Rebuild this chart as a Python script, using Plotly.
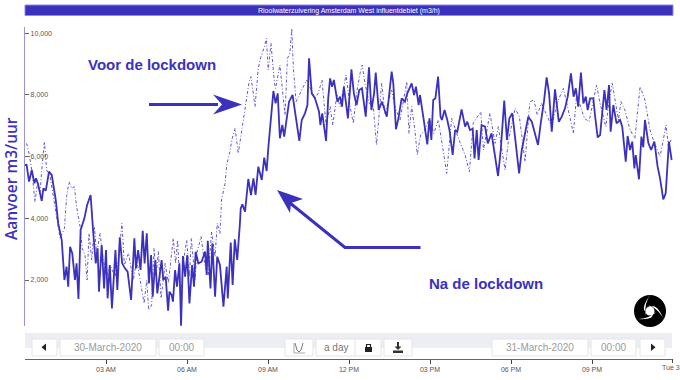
import math
import plotly.graph_objects as go

now_hours = [0,.06,.15,.25,.35,.41,.49,.62,.68,.77,.89,.99,1.05,1.14,1.23,1.36,1.46,1.54,1.6,1.67,1.75,1.85,1.91,1.98,2.06,2.2,2.3,2.43,2.53,2.62,2.69,2.74,2.84,2.93,3.0,3.06,3.14,3.22,3.35,3.42,3.51,3.6,3.7,3.8,3.93,
4.05,4.11,4.19,4.28,4.36,4.43,4.51,4.59,4.67,4.73,4.83,4.90,4.98,5.06,5.12,5.21,5.30,5.35,5.43,5.48,5.56,5.63,5.72,5.78,5.85,5.93,6.01,6.09,6.19,6.26,6.32,6.42,6.54,6.67,6.73,6.77,6.87,6.94,7.04,7.12,7.22,7.35,7.47,7.51,7.62,7.69,7.77,7.86,7.96,
7.99,8.05,8.15,8.27,8.37,8.46,8.54,8.64,8.77,8.86,8.95,9.01,9.11,9.2,9.28,9.36,9.44,9.53,9.6,9.68,9.78,9.91,10.02,10.16,10.25,10.37,10.46,10.52,10.62,10.74,10.89,10.94,11.01,11.15,11.23,
11.3,11.37,11.44,11.57,11.67,11.74,11.81,11.96,12.09,12.18,12.28,12.38,12.48,12.62,12.74,12.83,12.93,12.99,13.1,13.22,13.4,13.58,13.64,13.74,13.83,13.95,14.07,14.16,14.32,14.41,14.48,14.58,14.63,14.75,14.81,14.9,14.98,15.05,15.12,15.2,15.3,15.39,15.44,15.54,15.64,15.72,
15.84,15.93,16.01,16.17,16.3,16.38,16.48,16.58,16.65,16.73,16.8,16.91,17.04,17.14,17.28,17.41,17.52,17.62,17.75,17.85,17.94,18.05,18.15,18.3,18.4,18.52,18.64,18.77,18.9,19.0,19.1,19.22,19.32,19.41,19.51,19.63,19.77,19.88,
20,20.1,20.22,20.32,20.4,20.49,20.59,20.68,20.77,20.84,20.93,21.05,21.11,21.21,21.3,21.38,21.46,21.54,21.63,21.69,21.79,21.91,22.04,22.12,22.25,22.32,22.41,22.49,22.57,22.62,22.74,22.83,22.9,22.96,23.09,23.19,23.31,23.43,23.52,23.64,23.73,23.85,23.95]

now_flow = [5726,5726,5186,5564,5132,5294,5078,4560,4970,4894,5510,5402,5078,4592,3836,3296,2000,2432,1784,3080,2864,2000,2540,1384,3620,3998,4430,4754,3512,2540,3026,1622,3134,1730,2972,1406,2486,1082,2972,1676,3382,2540,2378,2270,1352,
3350,2378,2972,2324,3598,2540,3512,1892,2810,1460,2648,1568,2108,2648,2000,2108,1006,1622,1514,1298,2324,1784,2540,520,2778,2108,2810,1244,2486,1784,2918,2540,2594,2918,2162,3274,1730,3188,1460,2756,2486,1136,2432,1406,3210,1838,3318,2648,3836,
4322,4452,4214,5272,4754,5294,4754,5672,5240,5964,5532,6266,7346,8124,7724,8048,6590,7022,6644,7184,7778,7994,7346,6504,7184,7400,7670,9182,8048,7886,7454,7022,7400,6504,7886,
8534,8264,8480,7778,7940,7616,8264,7238,8826,8048,7670,8156,8210,7292,8890,7508,8048,8718,7508,7778,7292,8750,8372,6882,7238,7886,7778,8048,8372,7994,8264,7670,7994,7292,6860,6396,7238,6536,7832,7886,8588,7292,7184,7508,7184,6860,
6050,6860,6800,7530,6968,7130,6860,6900,5942,6860,5888,7022,6968,6428,6752,5996,5370,6212,7810,6536,7238,7400,6644,5456,6212,6806,7292,7130,6698,6374,7076,7778,8566,8048,6806,8178,7130,7292,
7562,7940,8696,7940,8210,7616,8718,7724,7940,7508,7886,7886,7346,6622,6698,7454,8156,7508,8318,6806,7670,7076,7184,6968,5834,6666,6212,6482,5618,6050,5262,6644,6299,7184,6428,6212,6482,5672,5294,4614,4806,6482,5888]

before_hours = [.06,.15,.25,.37,.47,.56,.64,.72,.8,.93,1.05,1.17,1.3,1.46,1.54,1.63,1.73,1.83,1.91,2.04,2.12,2.22,2.3,2.37,2.47,2.57,2.65,2.78,2.9,3.02,3.15,3.33,3.46,3.59,3.68,3.83,
3.89,4.01,4.14,4.25,4.41,4.51,4.58,4.69,4.78,4.85,4.94,5.04,5.19,5.31,5.43,5.49,5.58,5.65,5.77,5.86,5.99,6.09,6.16,6.3,6.36,6.52,6.67,6.79,6.91,7.04,7.12,7.22,7.28,7.41,
7.47,7.59,7.66,7.78,7.9,8.02,8.15,8.3,8.37,8.52,8.64,8.74,8.87,8.94,9.01,9.11,9.24,9.28,9.44,9.63,9.72,9.81,9.88,9.94,10.04,10.43,10.74,10.86,11.0,11.15,
11.3,11.4,11.55,11.67,11.89,12.04,12.16,12.28,12.41,12.49,12.59,12.75,12.9,13.02,13.21,13.33,13.58,13.7,13.89,14.14,14.22,14.32,14.44,14.53,14.65,14.81,14.98,15.14,15.31,15.46,15.62,
15.8,16.05,16.3,16.46,16.6,16.88,16.98,17.22,17.41,17.53,17.78,17.9,18.15,18.31,18.52,18.7,18.85,18.97,19.13,19.32,19.51,19.7,19.94,
20.19,20.31,20.43,20.72,20.89,21.17,21.3,21.51,21.64,21.75,21.98,22.07,22.22,22.41,22.59,22.72,22.78,22.96,23.15,23.27,23.52,23.64,23.74,23.83,23.93]

before_flow = [6428,6100,5564,4538,5186,4862,5780,6482,5564,5348,4700,4052,3350,3674,4700,5186,4970,5024,4376,3728,3026,2810,2000,3512,2648,3728,2864,3512,2648,2108,2486,2108,2648,3836,2486,2864,
2540,2000,2648,2108,1244,2000,1028,1190,3026,2108,2918,1406,2540,1900,2756,3350,2540,3296,1298,2540,3296,2108,3350,2000,2864,3404,2432,2162,3566,2756,3836,3512,4592,5132,
5726,6158,6536,6914,6104,6806,7670,8426,8588,7616,8858,9236,9560,9830,8804,9668,8372,8210,8966,7346,9182,9346,10154,8858,7778,8480,7886,8048,8480,7022,
7616,7022,8000,7616,8642,7616,7076,8050,8696,8966,8372,7724,7616,6374,8372,7400,8156,7616,7184,8426,6752,7616,6860,6050,6698,6860,7238,6752,7184,6266,5456,
7238,6590,6050,5510,7076,7454,6212,7400,6428,6968,5564,6482,7562,7292,5834,7778,7832,7346,7724,7346,6968,7724,8210,
7238,6752,8000,7238,7130,8318,7724,6968,7832,8372,7184,7778,7508,6860,6590,7724,8264,7832,6860,6540,6000,6536,7022,6320,6536]

x_tick_hours = [0,3,6,9,12,15,18,21]
x_tick_labels = ["","03 AM","06 AM","09 AM","12 PM","03 PM","06 PM","09 PM"]
x_end_label = "Tue 31"
y_ticks = [510,2000,4000,6000,8000,10000,10197]
y_tick_labels = ["","2,000","4,000","6,000","8,000","10,000",""]

BLUE = "#3b31bd"
GREY = "#9a9a9a"
FONT = "Liberation Sans"

def fx(p): return (p-25)/648
def fy(p): return (359-p)/332
def P(*pts):
    return "M"+" L".join(f"{fx(a):.5f},{fy(b):.5f}" for a,b in pts)+" Z"
def L(*pts):
    return "M"+" L".join(f"{fx(a):.5f},{fy(b):.5f}" for a,b in pts)

fig = go.Figure()
fig.add_trace(go.Scatter(x=before_hours,y=before_flow,mode="lines",line=dict(color="#6058cc",width=1,dash="3px,2px,1px,2px"),showlegend=False,hoverinfo="skip"))
fig.add_trace(go.Scatter(x=now_hours,y=now_flow,mode="lines",line=dict(color=BLUE,width=1.8),showlegend=False,hoverinfo="skip"))

shapes=[]
def rect(x0,y0,x1,y1,fill,line="rgba(0,0,0,0)",w=1):
    shapes.append(dict(type="rect",xref="paper",yref="paper",x0=fx(x0),x1=fx(x1),y0=fy(y0),y1=fy(y1),fillcolor=fill,line=dict(color=line,width=w),layer="above"))
def path(d,fill="rgba(0,0,0,0)",line="rgba(0,0,0,0)",w=1):
    shapes.append(dict(type="path",xref="paper",yref="paper",path=d,fillcolor=fill,line=dict(color=line,width=w),layer="above"))

rect(25,5,673,15.5,BLUE,"#8f8ae0",1)
rect(25,333,672,348,"#edeef4")
for a,b in [(32,57),(60,156),(159,204),(285,313),(316,381),(384,412),(492,588),(591,636),(640,665)]:
    rect(a,339,b,356,"#ffffff","#e4e4e8",1)
path(L((355,339),(355,356)),line="#e4e4e8")
path(P((46,343.5),(46,351),(41.5,347.2)),fill="#222222")
path(P((651,343.5),(651,351),(655.5,347.2)),fill="#222222")
path(L((295,343),(297,350),(299,352),(301,350),(303,343)),line="#777777",w=1)
path(L((294,343),(294,353),(305,353)),line="#aaaaaa",w=1)
rect(365,347,372,352,"#222222")
path(L((366.5,347),(366.5,344.5),(370.5,344.5),(370.5,347)),line="#222222",w=1.2)
rect(393,350.5,403,353,"#333333")
rect(397,342,399,348,"#333333")
path(P((394.5,346.5),(401.5,346.5),(398,350)),fill="#333333")
path(L((672.5,359),(672.5,363)),line="#444444")

# arrows
path(L((149,104.5),(218,104.5)),line=BLUE,w=3)
path(P((242,104.5),(213,94.5),(222,104.5),(213,114.5)),fill=BLUE)
path(L((420.5,247.5),(345,247.5),(290,203)),line=BLUE,w=3)
path(P((277,190),(303,199),(291,203),(290,213)),fill=BLUE)

# logo: black disc with three curved white blades
CX,CY,RAD = 650,311,16
shapes.append(dict(type="circle",xref="paper",yref="paper",x0=fx(CX-RAD),x1=fx(CX+RAD),y0=fy(CY+RAD),y1=fy(CY-RAD),fillcolor="#000000",line=dict(width=0),layer="above"))
def polar(r,deg):
    a=math.radians(deg)
    return fx(CX+r*math.cos(a)), fy(CY+r*math.sin(a))
for base in (-80,40,160):
    p0=polar(3.5,base); p1=polar(18,base+115); c1=polar(11,base+25); c2=polar(10,base+70); p2=polar(6,base-25)
    d=f"M{p0[0]:.5f},{p0[1]:.5f} Q{c1[0]:.5f},{c1[1]:.5f} {p1[0]:.5f},{p1[1]:.5f} Q{c2[0]:.5f},{c2[1]:.5f} {p2[0]:.5f},{p2[1]:.5f} Z"
    path(d,fill="#ffffff")
shapes.append(dict(type="circle",xref="paper",yref="paper",x0=fx(CX-4.5),x1=fx(CX+4.5),y0=fy(CY+4.5),y1=fy(CY-4.5),fillcolor="#ffffff",line=dict(width=0),layer="above"))

def text(px,py,t,size,color,anchor="center",bold=False,angle=0,family=FONT,weight=None):
    f=dict(size=size,color=color,family=family)
    if weight: f["weight"]=weight
    fig.add_annotation(xref="paper",yref="paper",x=fx(px),y=fy(py),text=f"<b>{t}</b>" if bold else t,showarrow=False,
        font=f,xanchor=anchor,yanchor="middle",textangle=angle)

text(349,10.5,"Rioolwaterzuivering Amsterdam West influentdebiet (m3/h)",7,"#ffffff")
text(151.5,64,"Voor de lockdown",15,BLUE,bold=True)
text(485.5,283,"Na de lockdown",15,BLUE,bold=True)
text(11,179,"Aanvoer m3/uur",15.5,BLUE,angle=-90,family="Open Sans",weight=600)
text(108,347.5,"30-March-2020",10,GREY)
text(181.5,347.5,"00:00",10,GREY)
text(335.5,347.5,"a day",10,"#777777")
text(540,347.5,"31-March-2020",10,GREY)
text(613.5,347.5,"00:00",10,GREY)
text(672.5,368,x_end_label,7,"#555555")

fig.update_layout(width=680,height=380,margin=dict(l=25,r=7,t=27,b=21,pad=0),paper_bgcolor="#ffffff",plot_bgcolor="#ffffff",
    shapes=shapes,showlegend=False,hovermode=False,font=dict(family=FONT),
    xaxis=dict(range=[0,24],tickmode="array",tickvals=x_tick_hours,ticktext=x_tick_labels,showgrid=False,zeroline=False,showline=True,linecolor="#666666",linewidth=1,
               ticks="outside",ticklen=4,tickcolor="#444444",tickfont=dict(size=7,color="#555555",family=FONT),anchor="free",position=0,tickangle=0),
    yaxis=dict(domain=[33/332,1],range=[510,10197],tickmode="array",tickvals=y_ticks,ticktext=y_tick_labels,showgrid=False,zeroline=False,showline=True,linecolor="#9a95e3",linewidth=1,
               ticks="inside",ticklen=4,tickcolor="#666666",ticklabelposition="inside",tickfont=dict(size=7,color="#555555",family=FONT)))
fig.write_html("out.html",config=dict(displayModeBar=False),post_script="document.body.style.margin='0';document.documentElement.style.overflow='hidden';")
